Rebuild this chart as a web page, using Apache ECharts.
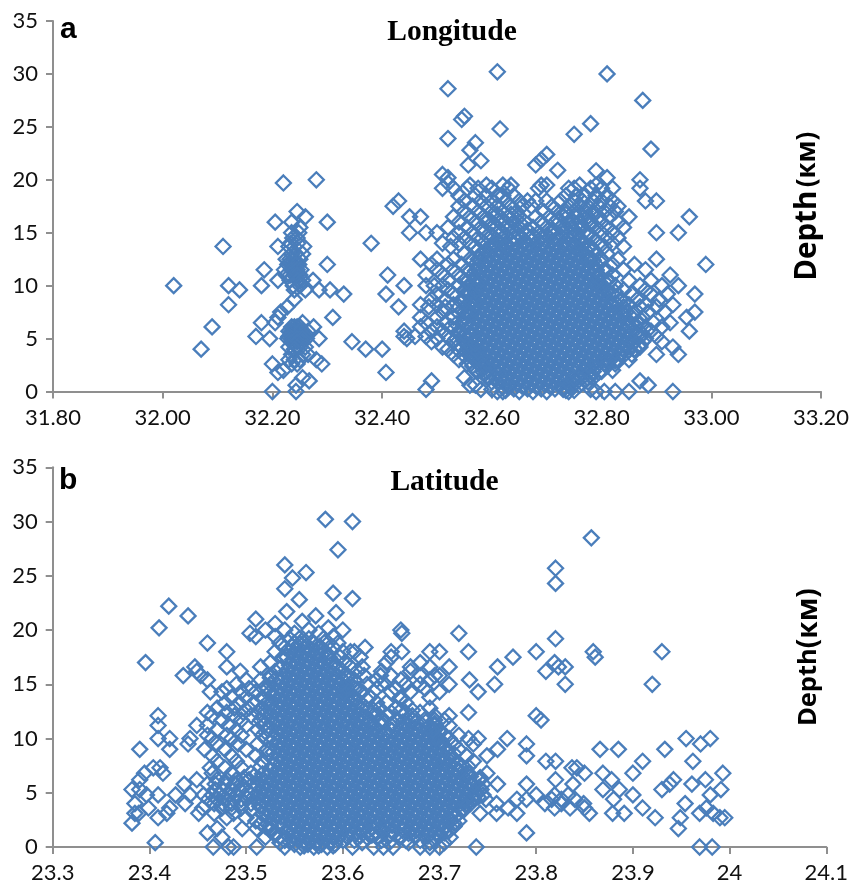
<!DOCTYPE html>
<html><head><meta charset="utf-8">
<style>html,body{margin:0;padding:0;background:#fff}#c{width:862px;height:884px}</style>
<script src="https://cdn.jsdelivr.net/npm/echarts@6/dist/echarts.min.js"></script>
</head><body><div id="c"></div>
<script>
const longitudeTicks = [31.8, 33.2, 0.2];
const latitudeTicks = [23.3, 24.1, 0.1];
const depthTicks = [0, 35, 5];

// Separate marks: [depth km, [longitudes]]
const longitudeRim = [
[30.2,[32.61]],[30,[32.81]],[28.6,[32.52]],[27.5,[32.875]],[26,[32.55]],[25.7,[32.545]],[25.3,[32.78]],[24.8,[32.615]],[24.3,[32.75]],[23.9,[32.52]],[23.5,[32.57]],[22.9,[32.89]],[22.8,[32.56]],[22.4,[32.70]],[21.9,[32.69]],[21.8,[32.58]],[21.4,[32.68,32.557]],[20.9,[32.72]],[20.85,[32.79]],[20.5,[32.51]],[20.2,[32.52,32.81]],[20,[32.87,32.28]],[19.7,[32.52,32.22]],
[19.5,[32.56,32.59,32.62,32.635,32.69,32.70,32.76,32.79]],
[19.2,[32.51,32.87,32.53,32.555,32.575,32.60,32.63,32.685,32.74,32.75,32.78,32.80,32.82]],
[18.5,[32.54,32.57,32.59,32.61,32.62,32.64,32.735,32.755,32.77,32.79,32.81]],
[18,[32.55,32.58,32.60,32.625,32.65,32.665,32.68,32.70,32.725,32.75,32.765,32.785,32.80,32.82,32.88,32.9,32.43]],
[17.5,[32.42,32.54,32.565,32.59,32.61,32.635,32.655,32.672,32.71,32.74,32.76,32.775,32.795,32.815,32.83]],
[17,[32.55,32.575,32.60,32.62,32.645,32.695,32.72,32.735,32.75,32.77,32.785,32.805,32.825,32.245]],
[16.5,[32.45,32.47,32.53,32.56,32.585,32.605,32.63,32.65,32.68,32.705,32.73,32.755,32.775,32.795,32.815,32.85,32.26,32.96]],
[16,[32.54,32.57,32.59,32.615,32.64,32.66,32.69,32.715,32.74,32.76,32.78,32.80,32.83,32.205,32.3,32.235]],
[15.5,[32.52,32.555,32.58,32.60,32.625,32.65,32.675,32.70,32.725,32.745,32.765,32.79,32.81,32.84,32.25]],
[15,[32.45,32.48,32.50,32.54,32.565,32.585,32.61,32.635,32.66,32.685,32.71,32.73,32.755,32.775,32.80,32.82,32.9,32.94,32.235,32.248]],
[14.5,[32.53,32.55,32.575,32.595,32.62,32.64,32.655,32.67,32.69,32.705,32.72,32.74,32.76,32.785,32.81,32.83,32.245,32.237]],
[14,[32.38,32.51,32.54,32.56,32.585,32.605,32.625,32.64,32.66,32.68,32.695,32.715,32.73,32.75,32.77,32.795,32.82,32.233,32.246]],
[13.7,[32.11,32.257,32.21,32.525,32.57,32.60,32.78,32.805,32.84,32.24,32.23]],
[13,[32.55,32.58,32.595,32.61,32.77,32.79,32.81,32.235,32.255,32.242]],
[12.5,[32.47,32.50,32.53,32.56,32.575,32.59,32.78,32.80,32.83,32.9,32.225,32.232,32.24,32.25]],
[12,[32.99,32.3,32.49,32.52,32.545,32.57,32.585,32.79,32.82,32.86,32.228,32.238,32.248,32.233,32.243]],
[11.5,[32.50,32.53,32.555,32.575,32.805,32.84,32.88,32.185,32.222,32.235,32.24,32.245,32.252]],
[11,[32.41,32.48,32.51,32.54,32.565,32.795,32.82,32.925,32.225,32.232,32.24,32.25,32.245]],
[10.5,[32.52,32.55,32.57,32.81,32.85,32.89,32.274,32.21,32.232,32.246,32.255]],
[10,[32.02,32.12,32.18,32.44,32.48,32.495,32.51,32.54,32.56,32.795,32.825,32.87,32.91,32.94,32.238,32.25]],
[9.6,[32.14,32.26,32.285,32.305,32.52,32.55,32.57,32.81,32.84,32.88,32.24]],
[9.2,[32.33,32.407,32.50,32.53,32.56,32.82,32.855,32.89,32.92,32.97]],
[8.7,[32.24,32.49,32.515,32.545,32.565,32.835,32.865,32.905]],
[8.2,[32.12,32.47,32.50,32.53,32.555,32.85,32.88,32.93]],
[8,[32.43,32.227,32.485,32.515,32.54,32.84,32.87,32.90]],
[7.5,[32.51,32.55,32.845,32.885,32.915,32.97,32.215]],
[7,[32.21,32.31,32.47,32.50,32.53,32.55,32.855,32.875,32.955]],
[6.5,[32.18,32.205,32.255,32.48,32.515,32.545,32.865,32.895,32.925]],
[6.1,[32.09,32.275,32.47,32.50,32.525,32.88,32.91,32.245,32.235,32.25,32.24]],
[5.7,[32.44,32.96,32.49,32.51,32.54,32.89,32.24,32.23,32.255,32.265,32.245,32.235,32.25]],
[5.2,[32.17,32.46,32.44,32.48,32.52,32.55,32.87,32.90,32.235,32.245,32.255,32.24,32.25,32.23,32.26]],
[5,[32.195,32.285,32.445,32.50,32.535,32.88,32.24,32.25,32.228,32.262,32.235,32.245,32.255]],
[4.7,[32.345,32.49,32.53,32.55,32.875,32.91,32.235,32.255,32.245]],
[4.2,[32.51,32.545,32.565,32.845,32.87,32.93,32.245,32.23,32.26]],
[4,[32.07,32.37,32.4,32.52,32.555,32.86,32.24]],
[3.5,[32.53,32.56,32.575,32.835,32.855,32.9,32.94,32.235,32.255,32.265]],
[3,[32.54,32.57,32.81,32.83,32.85,32.28,32.24,32.25,32.23]],
[2.6,[32.2,32.29,32.555,32.585,32.805,32.825,32.245,32.235]],
[2,[32.22,32.57,32.80,32.82]],
[1.8,[32.407,32.21,32.585,32.61,32.775,32.795]],
[1.3,[32.255,32.55,32.595,32.615,32.765,32.785]],
[1,[32.267,32.49,32.62,32.75,32.77,32.87]],
[0.6,[32.243,32.57,32.63,32.74,32.76,32.885,32.56]],
[0.2,[32.48,32.58,32.60,32.73,32.78]],
[0,[32.2,32.243,32.61,32.62,32.74,32.79,32.805,32.825,32.85,32.93]],
[0.1,[32.625,32.735,32.75]],[0.4,[32.62,32.63,32.73,32.745]],[0.9,[32.60,32.61,32.755,32.775]],[1.4,[32.59,32.605,32.76,32.78]],[1.9,[32.575,32.59,32.785,32.80]],[2.4,[32.565,32.58,32.59,32.79,32.81]],[2.9,[32.56,32.57,32.815,32.825]],[3.4,[32.55,32.565,32.575,32.82,32.84]],[3.9,[32.54,32.56,32.57,32.85]],[4.4,[32.54,32.555,32.56,32.855,32.87]],
[5.4,[32.54,32.55,32.56,32.875]],[6.4,[32.535,32.55,32.555,32.855,32.87]],[7.4,[32.54,32.555,32.56,32.84,32.86]],[8.4,[32.545,32.56,32.565,32.825,32.84]],[9.4,[32.55,32.56,32.57,32.81,32.825]],[10.4,[32.555,32.565,32.575,32.795,32.815]],[11.4,[32.56,32.57,32.58,32.79,32.81]],[12.4,[32.565,32.58,32.59,32.785,32.80]],[13.4,[32.575,32.59,32.60,32.61,32.77,32.785]],
[13.9,[32.60,32.615,32.64,32.665,32.69,32.715,32.74,32.765]],[14.25,[32.61,32.635,32.66,32.685,32.71,32.735,32.76]],[14.75,[32.6,32.625,32.65,32.675,32.7,32.725,32.75,32.775]],[15.25,[32.615,32.64,32.665,32.71,32.735,32.76]],[15.75,[32.605,32.63,32.655,32.73,32.755,32.78]],[16.25,[32.595,32.62,32.645,32.72,32.745,32.77]],[16.75,[32.61,32.635,32.735,32.76,32.785]]
];

// Solid central mass, where single marks can't be told apart: estimated rows [depth km, [longitudes]]
const longitudeCore = [
[0,[32.65,32.675,32.7]],[0.25,[32.64,32.665,32.69,32.715]],[0.5,[32.655,32.68,32.705]],[0.75,[32.645,32.67,32.695,32.72]],
[1,[32.635,32.66,32.685,32.71,32.735]],[1.25,[32.625,32.65,32.675,32.7,32.725,32.75]],[1.5,[32.64,32.665,32.69,32.715,32.74]],[1.75,[32.63,32.655,32.68,32.705,32.73]],
[2,[32.595,32.62,32.645,32.67,32.695,32.72,32.745,32.77]],[2.25,[32.61,32.635,32.66,32.685,32.71,32.735,32.76]],[2.5,[32.6,32.625,32.65,32.675,32.7,32.725,32.75,32.775]],[2.75,[32.59,32.615,32.64,32.665,32.69,32.715,32.74,32.765,32.79]],
[3,[32.58,32.605,32.63,32.655,32.68,32.705,32.73,32.755,32.78,32.805]],[3.25,[32.595,32.62,32.645,32.67,32.695,32.72,32.745,32.77,32.795]],[3.5,[32.585,32.61,32.635,32.66,32.685,32.71,32.735,32.76,32.785,32.81]],[3.75,[32.575,32.6,32.625,32.65,32.675,32.7,32.725,32.75,32.775,32.8,32.825]],
[4,[32.59,32.615,32.64,32.665,32.69,32.715,32.74,32.765,32.79,32.815,32.84]],[4.25,[32.58,32.605,32.63,32.655,32.68,32.705,32.73,32.755,32.78,32.805,32.83]],[4.5,[32.57,32.595,32.62,32.645,32.67,32.695,32.72,32.745,32.77,32.795,32.82,32.845]],[4.75,[32.585,32.61,32.635,32.66,32.685,32.71,32.735,32.76,32.785,32.81,32.835,32.86]],
[5,[32.575,32.6,32.625,32.65,32.675,32.7,32.725,32.75,32.775,32.8,32.825,32.85]],[5.25,[32.565,32.59,32.615,32.64,32.665,32.69,32.715,32.74,32.765,32.79,32.815,32.84,32.865]],[5.5,[32.58,32.605,32.63,32.655,32.68,32.705,32.73,32.755,32.78,32.805,32.83,32.855]],[5.75,[32.57,32.595,32.62,32.645,32.67,32.695,32.72,32.745,32.77,32.795,32.82,32.845]],
[6,[32.56,32.585,32.61,32.635,32.66,32.685,32.71,32.735,32.76,32.785,32.81,32.835]],[6.25,[32.575,32.6,32.625,32.65,32.675,32.7,32.725,32.75,32.775,32.8,32.825,32.85]],[6.5,[32.565,32.59,32.615,32.64,32.665,32.69,32.715,32.74,32.765,32.79,32.815,32.84]],[6.75,[32.58,32.605,32.63,32.655,32.68,32.705,32.73,32.755,32.78,32.805,32.83]],
[7,[32.57,32.595,32.62,32.645,32.67,32.695,32.72,32.745,32.77,32.795,32.82]],[7.25,[32.56,32.585,32.61,32.635,32.66,32.685,32.71,32.735,32.76,32.785,32.81,32.835]],[7.5,[32.575,32.6,32.625,32.65,32.675,32.7,32.725,32.75,32.775,32.8,32.825]],[7.75,[32.565,32.59,32.615,32.64,32.665,32.69,32.715,32.74,32.765,32.79,32.815]],
[8,[32.58,32.605,32.63,32.655,32.68,32.705,32.73,32.755,32.78,32.805]],[8.25,[32.57,32.595,32.62,32.645,32.67,32.695,32.72,32.745,32.77,32.795,32.82]],[8.5,[32.585,32.61,32.635,32.66,32.685,32.71,32.735,32.76,32.785,32.81]],[8.75,[32.575,32.6,32.625,32.65,32.675,32.7,32.725,32.75,32.775,32.8]],
[9,[32.59,32.615,32.64,32.665,32.69,32.715,32.74,32.765,32.79]],[9.25,[32.58,32.605,32.63,32.655,32.68,32.705,32.73,32.755,32.78,32.805]],[9.5,[32.57,32.595,32.62,32.645,32.67,32.695,32.72,32.745,32.77,32.795]],[9.75,[32.585,32.61,32.635,32.66,32.685,32.71,32.735,32.76,32.785]],
[10,[32.575,32.6,32.625,32.65,32.675,32.7,32.725,32.75,32.775,32.8]],[10.25,[32.59,32.615,32.64,32.665,32.69,32.715,32.74,32.765,32.79]],[10.5,[32.58,32.605,32.63,32.655,32.68,32.705,32.73,32.755,32.78]],[10.75,[32.595,32.62,32.645,32.67,32.695,32.72,32.745,32.77,32.795]],
[11,[32.585,32.61,32.635,32.66,32.685,32.71,32.735,32.76,32.785]],[11.25,[32.6,32.625,32.65,32.675,32.7,32.725,32.75,32.775]],[11.5,[32.59,32.615,32.64,32.665,32.69,32.715,32.74,32.765,32.79]],[11.75,[32.605,32.63,32.655,32.68,32.705,32.73,32.755,32.78]],
[12,[32.595,32.62,32.645,32.67,32.695,32.72,32.745,32.77]],[12.25,[32.61,32.635,32.66,32.685,32.71,32.735,32.76]],[12.5,[32.6,32.625,32.65,32.675,32.7,32.725,32.75,32.775]],[12.75,[32.615,32.64,32.665,32.69,32.715,32.74,32.765]],
[13,[32.63,32.655,32.68,32.705,32.73,32.755]],[13.25,[32.62,32.645,32.67,32.695,32.72,32.745]],[13.5,[32.635,32.66,32.685,32.71,32.735,32.76]],[13.75,[32.625,32.65,32.7,32.725,32.75]]
];

// Separate marks: [depth km, [latitudes]]
const latitudeRim = [
[30.2,[23.582]],[30,[23.61]],[28.5,[23.857]],[27.4,[23.595]],[26,[23.54]],[25.7,[23.82]],[25.3,[23.562]],[24.8,[23.548]],[24.3,[23.82]],[23.8,[23.54]],[23.4,[23.59]],[22.9,[23.61]],[22.8,[23.555]],[22.2,[23.42]],[21.7,[23.542]],[21.6,[23.593]],[21.3,[23.44,23.572]],[21,[23.51]],[20.8,[23.558]],[20.6,[23.53]],[20.2,[23.41,23.585]],[20,[23.6,23.66,23.52,23.54,23.565]],[19.7,[23.504,23.72,23.661,23.55,23.575]],[19.4,[23.51,23.53,23.59]],
[19.2,[23.82,23.545,23.555,23.565,23.58]],
[18.8,[23.46,23.535,23.55,23.56,23.57,23.585,23.595]],
[18.4,[23.623,23.54,23.577,23.59]],
[18,[23.48,23.608,23.65,23.661,23.69,23.73,23.8,23.859,23.93,23.7,23.53,23.582,23.6,23.612]],
[17.5,[23.861,23.776,23.618,23.538,23.586,23.597,23.65]],
[17,[23.396,23.819,23.525,23.59,23.602,23.645,23.68]],
[16.6,[23.48,23.447,23.823,23.83,23.76,23.515,23.595,23.608,23.62,23.67,23.71,23.69]],
[16.2,[23.494,23.449,23.67,23.81,23.53,23.6,23.615,23.64]],
[15.8,[23.435,23.453,23.639,23.7,23.525,23.605,23.622,23.65,23.68,23.695]],
[15.4,[23.46,23.731,23.50,23.515,23.6,23.612,23.635,23.66,23.69]],
[15,[23.83,23.757,23.92,23.49,23.525,23.608,23.625,23.64,23.665,23.68,23.71]],
[14.6,[23.48,23.503,23.518,23.6,23.615,23.635,23.655,23.685]],
[14.3,[23.463,23.74,23.475,23.495,23.51,23.525,23.605,23.62,23.65,23.67,23.70]],
[13.8,[23.485,23.5,23.517,23.612,23.628,23.66,23.69]],
[13.3,[23.478,23.493,23.508,23.522,23.618,23.635,23.645,23.665]],
[12.8,[23.47,23.488,23.503,23.516,23.624,23.638,23.655,23.69]],
[12.4,[23.73,23.46,23.48,23.497,23.512,23.63,23.65,23.665,23.68]],
[12.1,[23.71,23.8,23.409,23.465,23.488,23.505,23.518,23.635,23.645,23.672,23.695]],
[11.7,[23.805,23.475,23.495,23.515,23.628,23.64,23.655,23.695,23.705]],
[11.2,[23.409,23.449,23.46,23.482,23.5,23.518,23.63,23.65,23.695,23.71]],
[10.8,[23.47,23.49,23.512,23.523,23.695,23.70]],
[10.3,[23.46,23.48,23.495,23.517,23.695,23.705,23.72]],
[10,[23.409,23.421,23.442,23.955,23.98,23.77,23.74,23.73,23.465,23.485,23.52,23.698,23.71]],
[9.5,[23.44,23.79,23.97,23.47,23.492,23.512,23.703,23.715,23.735]],
[9,[23.421,23.39,23.76,23.933,23.866,23.885,23.457,23.478,23.5,23.522,23.708,23.72]],
[8.4,[23.749,23.79,23.465,23.485,23.51,23.712,23.728]],
[7.9,[23.81,23.82,23.91,23.962,23.47,23.49,23.517,23.705,23.735]],
[7.3,[23.837,23.842,23.463,23.404,23.411,23.478,23.495,23.722]],
[6.8,[23.85,23.869,23.9,23.993,23.395,23.414,23.749,23.465,23.485,23.505,23.73]],
[6.2,[23.975,23.942,23.878,23.82,23.742,23.39,23.449,23.47,23.48,23.49,23.503]],
[5.8,[23.938,23.838,23.79,23.436,23.76,23.961,23.46,23.468,23.478,23.488,23.495,23.745]],
[5.3,[23.991,23.93,23.869,23.886,23.382,23.39,23.468,23.476,23.485,23.493,23.5,23.743]],
[4.8,[23.9,23.98,23.8,23.819,23.833,23.397,23.409,23.427,23.442,23.456,23.465,23.472,23.482,23.49,23.505,23.745]],
[4.4,[23.78,23.816,23.826,23.84,23.88,23.79,23.461,23.47,23.478,23.487,23.495,23.735,23.748]],
[4,[23.385,23.437,23.809,23.826,23.849,23.954,23.759,23.467,23.476,23.485,23.495,23.505,23.728]],
[3.6,[23.399,23.421,23.819,23.835,23.85,23.771,23.91,23.976,23.455,23.475,23.485,23.495,23.725]],
[3.1,[23.385,23.389,23.418,23.451,23.759,23.78,23.855,23.879,23.891,23.969,23.983,23.742,23.467,23.487,23.72]],
[2.7,[23.409,23.5,23.923,23.949,23.99,23.995,23.48,23.715]],
[2.2,[23.382,23.515,23.715]],
[1.7,[23.496,23.511,23.947,23.47,23.525,23.63,23.645,23.705]],
[1.3,[23.46,23.79,23.53,23.635,23.652,23.705]],
[0.9,[23.475,23.52,23.535,23.605,23.625,23.635,23.66,23.711]],
[0.4,[23.406,23.535,23.62,23.648,23.668,23.69,23.705]],
[0,[23.466,23.482,23.487,23.511,23.54,23.61,23.632,23.642,23.652,23.68,23.69,23.70,23.738,23.969,23.982]],
[0.1,[23.56,23.575,23.59]],[0.6,[23.54,23.6,23.612,23.64,23.665,23.68,23.695]],[1.1,[23.53,23.63,23.648,23.7]],[1.5,[23.525,23.64,23.65,23.71]],[1.9,[23.52,23.715]],[2.4,[23.51,23.72]],[3.4,[23.505,23.725]],[4.6,[23.5,23.74]],[6.4,[23.498,23.742]],[7.4,[23.515,23.73]],[8.6,[23.522,23.715]],[10.6,[23.52,23.70]],[11.4,[23.52,23.64,23.652,23.695]],[12.6,[23.52,23.632,23.66,23.672]],[13.6,[23.518,23.625,23.66]],[14.6,[23.522,23.612]],[15.6,[23.525,23.605]]
];

// Solid central mass, where single marks can't be told apart: estimated rows [depth km, [latitudes]]
const latitudeCore = [
[0,[23.556,23.57,23.584]],[0.25,[23.55,23.564,23.578,23.592]],[0.5,[23.545,23.559,23.573,23.587]],[0.75,[23.553,23.567,23.581,23.595]],
[1,[23.548,23.562,23.576,23.59,23.604,23.618,23.66,23.674,23.688]],[1.25,[23.542,23.556,23.57,23.584,23.598,23.612,23.668,23.682,23.696]],[1.5,[23.55,23.564,23.578,23.592,23.606,23.62,23.662,23.676,23.69]],[1.75,[23.545,23.559,23.573,23.587,23.601,23.615,23.671,23.685,23.699]],
[2,[23.525,23.539,23.553,23.567,23.581,23.595,23.609,23.623,23.637,23.651,23.665,23.679,23.693,23.707]],[2.25,[23.534,23.548,23.562,23.576,23.59,23.604,23.618,23.632,23.646,23.66,23.674,23.688,23.702]],[2.5,[23.528,23.542,23.556,23.57,23.584,23.598,23.612,23.626,23.64,23.654,23.668,23.682,23.696,23.71]],[2.75,[23.522,23.536,23.55,23.564,23.578,23.592,23.606,23.62,23.634,23.648,23.662,23.676,23.69,23.704]],
[3,[23.517,23.531,23.545,23.559,23.573,23.587,23.601,23.615,23.629,23.643,23.657,23.671,23.685,23.699,23.713]],[3.25,[23.525,23.539,23.553,23.567,23.581,23.595,23.609,23.623,23.637,23.651,23.665,23.679,23.693,23.707]],[3.5,[23.52,23.534,23.548,23.562,23.576,23.59,23.604,23.618,23.632,23.646,23.66,23.674,23.688,23.702,23.716]],[3.75,[23.514,23.528,23.542,23.556,23.57,23.584,23.598,23.612,23.626,23.64,23.654,23.668,23.682,23.696,23.71]],
[4,[23.522,23.536,23.55,23.564,23.578,23.592,23.606,23.62,23.634,23.648,23.662,23.676,23.69,23.704,23.718,23.732]],[4.25,[23.517,23.531,23.545,23.559,23.573,23.587,23.601,23.615,23.629,23.643,23.657,23.671,23.685,23.699,23.713,23.727]],[4.5,[23.511,23.525,23.539,23.553,23.567,23.581,23.595,23.609,23.623,23.637,23.651,23.665,23.679,23.693,23.707,23.721,23.735]],[4.75,[23.52,23.534,23.548,23.562,23.576,23.59,23.604,23.618,23.632,23.646,23.66,23.674,23.688,23.702,23.716,23.73]],
[5,[23.514,23.528,23.542,23.556,23.57,23.584,23.598,23.612,23.626,23.64,23.654,23.668,23.682,23.696,23.71,23.724,23.738]],[5.25,[23.508,23.522,23.536,23.55,23.564,23.578,23.592,23.606,23.62,23.634,23.648,23.662,23.676,23.69,23.704,23.718,23.732]],[5.5,[23.517,23.531,23.545,23.559,23.573,23.587,23.601,23.615,23.629,23.643,23.657,23.671,23.685,23.699,23.713,23.727,23.741]],[5.75,[23.511,23.525,23.539,23.553,23.567,23.581,23.595,23.609,23.623,23.637,23.651,23.665,23.679,23.693,23.707,23.721,23.735]],
[6,[23.52,23.534,23.548,23.562,23.576,23.59,23.604,23.618,23.632,23.646,23.66,23.674,23.688,23.702,23.716,23.73]],[6.25,[23.514,23.528,23.542,23.556,23.57,23.584,23.598,23.612,23.626,23.64,23.654,23.668,23.682,23.696,23.71,23.724]],[6.5,[23.508,23.522,23.536,23.55,23.564,23.578,23.592,23.606,23.62,23.634,23.648,23.662,23.676,23.69,23.704,23.718,23.732]],[6.75,[23.517,23.531,23.545,23.559,23.573,23.587,23.601,23.615,23.629,23.643,23.657,23.671,23.685,23.699,23.713,23.727]],
[7,[23.525,23.539,23.553,23.567,23.581,23.595,23.609,23.623,23.637,23.651,23.665,23.679,23.693,23.707,23.721]],[7.25,[23.534,23.548,23.562,23.576,23.59,23.604,23.618,23.632,23.646,23.66,23.674,23.688,23.702,23.716]],[7.5,[23.528,23.542,23.556,23.57,23.584,23.598,23.612,23.626,23.64,23.654,23.668,23.682,23.696,23.71]],[7.75,[23.536,23.55,23.564,23.578,23.592,23.606,23.62,23.634,23.648,23.662,23.676,23.69,23.704,23.718]],
[8,[23.531,23.545,23.559,23.573,23.587,23.601,23.615,23.629,23.643,23.657,23.671,23.685,23.699,23.713]],[8.25,[23.539,23.553,23.567,23.581,23.595,23.609,23.623,23.637,23.651,23.665,23.679,23.693,23.707]],[8.5,[23.534,23.548,23.562,23.576,23.59,23.604,23.618,23.632,23.646,23.66,23.674,23.688,23.702]],[8.75,[23.528,23.542,23.556,23.57,23.584,23.598,23.612,23.626,23.64,23.654,23.668,23.682,23.696]],
[9,[23.536,23.55,23.564,23.578,23.592,23.606,23.62,23.634,23.648,23.662,23.676,23.69,23.704]],[9.25,[23.531,23.545,23.559,23.573,23.587,23.601,23.615,23.629,23.643,23.657,23.671,23.685,23.699]],[9.5,[23.539,23.553,23.567,23.581,23.595,23.609,23.623,23.637,23.651,23.665,23.679,23.693]],[9.75,[23.534,23.548,23.562,23.576,23.59,23.604,23.618,23.632,23.646,23.66,23.674,23.688,23.702]],
[10,[23.528,23.542,23.556,23.57,23.584,23.598,23.612,23.626,23.64,23.654,23.668,23.682,23.696]],[10.25,[23.536,23.55,23.564,23.578,23.592,23.606,23.62,23.634,23.648,23.662,23.676,23.69]],[10.5,[23.531,23.545,23.559,23.573,23.587,23.601,23.615,23.629,23.643,23.657,23.671,23.685]],[10.75,[23.539,23.553,23.567,23.581,23.595,23.609,23.623,23.637,23.651,23.665,23.679,23.693]],
[11,[23.534,23.548,23.562,23.576,23.59,23.604,23.618,23.632,23.66,23.674,23.688]],[11.25,[23.528,23.542,23.556,23.57,23.584,23.598,23.612,23.626,23.668,23.682]],[11.5,[23.536,23.55,23.564,23.578,23.592,23.606,23.62,23.662,23.676]],[11.75,[23.531,23.545,23.559,23.573,23.587,23.601,23.615,23.671,23.685]],
[12,[23.525,23.539,23.553,23.567,23.581,23.595,23.609,23.623]],[12.25,[23.534,23.548,23.562,23.576,23.59,23.604,23.618]],[12.5,[23.528,23.542,23.556,23.57,23.584,23.598,23.612]],[12.75,[23.536,23.55,23.564,23.578,23.592,23.606,23.62]],
[13,[23.531,23.545,23.559,23.573,23.587,23.601,23.615]],[13.25,[23.525,23.539,23.553,23.567,23.581,23.595,23.609]],[13.5,[23.534,23.548,23.562,23.576,23.59,23.604]],[13.75,[23.528,23.542,23.556,23.57,23.584,23.598,23.612]],
[14,[23.536,23.55,23.564,23.578,23.592,23.606]],[14.25,[23.531,23.545,23.559,23.573,23.587,23.601]],[14.5,[23.539,23.553,23.567,23.581,23.595]],[14.75,[23.534,23.548,23.562,23.576,23.59,23.604]],
[15,[23.542,23.556,23.57,23.584,23.598]],[15.25,[23.536,23.55,23.564,23.578,23.592]],[15.5,[23.531,23.545,23.559,23.573,23.587]],[15.75,[23.539,23.553,23.567,23.581,23.595]],
[16,[23.548,23.562,23.576,23.59]],[16.25,[23.542,23.556,23.57,23.584]],[16.5,[23.536,23.55,23.564,23.578]],[16.75,[23.545,23.559,23.573,23.587]],
[17,[23.553,23.567,23.581]],[17.25,[23.548,23.562,23.576]],[17.5,[23.542,23.556,23.57,23.584]],[17.75,[23.55,23.564,23.578]],
[18,[23.545,23.559,23.573]],[18.25,[23.553,23.567]],[18.5,[23.548,23.562,23.576]],[18.75,[23.556,23.57]]
];

const toPoints = rows => rows.flatMap(([d, xs]) => xs.map(x => [x, d]));
const lonPoints = toPoints(longitudeRim).concat(toPoints(longitudeCore));
const latPoints = toPoints(latitudeRim).concat(toPoints(latitudeCore));

const axisGray = '#8f8f8f', blue = '#4a7ebb', labelFont = 'Lato';
function xAxis(grid, t, fmt) {
  return {gridIndex: grid, type: 'value', min: t[0], max: t[1], interval: t[2], splitLine: {show: false},
    axisLine: {onZero: false, lineStyle: {color: axisGray, width: 2}},
    axisTick: {length: 7, lineStyle: {color: axisGray, width: 2}},
    axisLabel: {color: '#111', fontFamily: labelFont, fontSize: 22, margin: 15, formatter: fmt}};
}
function yAxis(grid, gap, dSize, kSize, sep) {
  return {gridIndex: grid, type: 'value', min: depthTicks[0], max: depthTicks[1], interval: depthTicks[2], splitLine: {show: false},
    axisLine: {onZero: false, show: true, lineStyle: {color: axisGray, width: 2}},
    axisTick: {show: true, length: 7, lineStyle: {color: axisGray, width: 2}},
    axisLabel: {color: '#111', fontFamily: labelFont, fontSize: 22, margin: 15},
    name: '{d|Depth}' + sep + '{k|(км)}', nameLocation: 'middle', nameGap: gap, nameRotate: 90,
    nameTextStyle: {rich: {
      d: {fontFamily: 'Open Sans', fontWeight: 'bold', fontSize: dSize, color: '#000'},
      k: {fontFamily: 'Open Sans', fontWeight: 'bold', fontSize: kSize, color: '#000'}}}};
}
function series(i, data) {
  return {type: 'scatter', xAxisIndex: i, yAxisIndex: i, data, symbol: 'diamond', symbolSize: 15, clip: false,
    itemStyle: {color: 'rgba(0,0,0,0)', borderColor: blue, borderWidth: 2.3, opacity: 1}, animation: false, large: false};
}
const chart = echarts.init(document.getElementById('c'), null, {renderer: 'canvas'});
chart.setOption({
  animation: false, backgroundColor: '#fff',
  title: [
    {text: 'Longitude', left: 447, top: 12, textAlign: 'center', textStyle: {fontFamily: 'Liberation Serif', fontWeight: 'bold', fontSize: 29.5, color: '#000'}},
    {text: 'Latitude', left: 439.5, top: 462, textAlign: 'center', textStyle: {fontFamily: 'Liberation Serif', fontWeight: 'bold', fontSize: 29.5, color: '#000'}},
    {text: 'a', left: 55, top: 10, textStyle: {fontFamily: 'Liberation Sans', fontWeight: 'bold', fontSize: 30, color: '#000'}},
    {text: 'b', left: 54, top: 461, textStyle: {fontFamily: 'Liberation Sans', fontWeight: 'bold', fontSize: 30, color: '#000'}}
  ],
  grid: [
    {left: 53, top: 21, width: 768, height: 370.5},
    {left: 52.7, top: 467.3, width: 773.6, height: 380.7}
  ],
  xAxis: [xAxis(0, longitudeTicks, v => v.toFixed(2)), xAxis(1, latitudeTicks, v => String(+v.toFixed(1)))],
  yAxis: [yAxis(0, -770, 29.5, 26, ' '), yAxis(1, -770, 25.5, 28, '')],
  series: [series(0, lonPoints), series(1, latPoints)]
});
</script></body></html>
